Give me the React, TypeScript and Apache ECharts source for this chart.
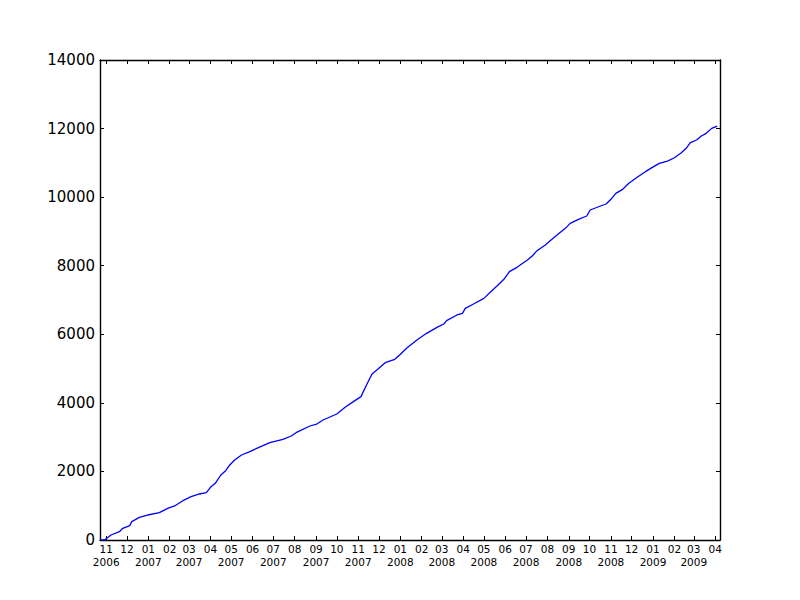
import React, { useEffect, useRef } from "react";
import * as echarts from "echarts";

const dates: string[] = [
  "2006-10-23", "2006-10-30", "2006-11-08", "2006-11-20", "2006-11-25", "2006-12-05",
  "2006-12-08", "2006-12-19", "2006-12-31", "2007-01-17", "2007-01-29", "2007-02-08",
  "2007-02-20", "2007-03-04", "2007-03-16", "2007-03-26", "2007-04-01", "2007-04-08",
  "2007-04-16", "2007-04-23", "2007-04-29", "2007-05-06", "2007-05-16", "2007-05-28",
  "2007-06-07", "2007-06-16", "2007-06-26", "2007-07-15", "2007-07-27", "2007-08-03",
  "2007-08-23", "2007-09-02", "2007-09-11", "2007-10-01", "2007-10-13", "2007-10-25",
  "2007-11-05", "2007-11-13", "2007-11-21", "2007-11-28", "2007-12-10", "2007-12-24",
  "2007-12-31", "2008-01-10", "2008-01-25", "2008-02-08", "2008-02-25", "2008-03-04",
  "2008-03-08", "2008-03-23", "2008-03-31", "2008-04-04", "2008-04-16", "2008-05-01",
  "2008-05-11", "2008-05-20", "2008-05-30", "2008-06-07", "2008-06-18", "2008-07-03",
  "2008-07-10", "2008-07-17", "2008-07-29", "2008-08-05", "2008-08-15", "2008-08-27",
  "2008-09-03", "2008-09-15", "2008-09-27", "2008-10-02", "2008-10-17", "2008-10-25",
  "2008-11-01", "2008-11-08", "2008-11-18", "2008-11-27", "2008-12-09", "2008-12-21",
  "2008-12-31", "2009-01-10", "2009-01-22", "2009-02-01", "2009-02-11", "2009-02-18",
  "2009-02-24", "2009-03-05", "2009-03-12", "2009-03-19", "2009-03-27", "2009-04-04",
];

const counts: number[] = [
  0, 5, 146, 243, 340, 418,
  535, 661, 729, 797, 924, 992,
  1147, 1264, 1342, 1381, 1537, 1653,
  1896, 2022, 2188, 2333, 2479, 2576,
  2674, 2750, 2838, 2936, 3033, 3130,
  3325, 3383, 3500, 3675, 3870, 4035,
  4181, 4521, 4842, 4958, 5172, 5270,
  5396, 5591, 5833, 6028, 6222, 6300,
  6397, 6563, 6611, 6757, 6883, 7048,
  7243, 7408, 7603, 7826, 7953, 8167,
  8283, 8439, 8604, 8730, 8896, 9090,
  9236, 9353, 9450, 9625, 9742, 9800,
  9936, 10111, 10228, 10403, 10578, 10743,
  10869, 10986, 11053, 11150, 11296, 11423,
  11588, 11667, 11783, 11861, 12006, 12073,
];

const xStart = "2006-10-23";
const xEnd = "2009-04-08";
const firstTick = { year: 2006, month: 11 };
const lastTick = { year: 2009, month: 4 };

const DAY = 86400000;
const toDay = (s: string) => {
  const [y, m, d] = s.split("-").map(Number);
  return Date.UTC(y, m - 1, d) / DAY;
};

const monthTicks: number[] = [];
{
  let y = firstTick.year;
  let m = firstTick.month;
  while (y < lastTick.year || (y === lastTick.year && m <= lastTick.month)) {
    monthTicks.push(Date.UTC(y, m - 1, 1) / DAY);
    m++;
    if (m > 12) { m = 1; y++; }
  }
}

const pad2 = (n: number) => (n < 10 ? "0" + n : "" + n);

export default function App() {
  const ref = useRef<HTMLDivElement>(null);
  useEffect(() => {
    if (!ref.current) return;
    const chart = echarts.init(ref.current, null, { renderer: "svg" });
    const font = "DejaVu Sans";
    const seriesData = dates.map((d, i) => [toDay(d), counts[i]]);
    const tickStyle = { show: true, inside: true, length: 4, lineStyle: { color: "#000", width: 1 } };
    const spine = { show: true, onZero: false, lineStyle: { color: "#000", width: 1.4 } };
    chart.setOption({
      animation: false,
      backgroundColor: "#ffffff",
      grid: { left: 100, right: 80, top: 60, bottom: 60, containLabel: false },
      xAxis: [
        {
          type: "value",
          position: "bottom",
          min: toDay(xStart),
          max: toDay(xEnd),
          axisLine: spine,
          axisTick: { ...tickStyle, customValues: monthTicks },
          splitLine: { show: false },
          axisLabel: {
            customValues: monthTicks,
            margin: 2,
            fontFamily: font,
            fontSize: 10.5,
            lineHeight: 13,
            color: "#000",
            formatter: (v: number) => {
              const d = new Date(Math.round(v) * DAY);
              const m = d.getUTCMonth() + 1;
              const y = d.getUTCFullYear();
              return m % 2 === 1 ? pad2(m) + "\n" + y : pad2(m);
            },
          },
        },
        {
          type: "value",
          position: "top",
          min: toDay(xStart),
          max: toDay(xEnd),
          axisLine: spine,
          axisTick: { ...tickStyle, customValues: monthTicks },
          axisLabel: { show: false },
          splitLine: { show: false },
        },
      ],
      yAxis: [
        {
          type: "value",
          position: "left",
          min: 0,
          max: 14000,
          interval: 2000,
          axisLine: spine,
          axisTick: tickStyle,
          splitLine: { show: false },
          axisLabel: {
            margin: 5,
            fontFamily: font,
            fontSize: 15,
            color: "#000",
            formatter: (v: number) => String(v),
          },
        },
        {
          type: "value",
          position: "right",
          min: 0,
          max: 14000,
          interval: 2000,
          axisLine: spine,
          axisTick: tickStyle,
          splitLine: { show: false },
          axisLabel: { show: false },
        },
      ],
      series: [
        {
          type: "line",
          data: seriesData,
          xAxisIndex: 0,
          yAxisIndex: 0,
          showSymbol: false,
          symbol: "none",
          lineStyle: { color: "#0000ff", width: 1.3 },
        },
      ],
    });
    return () => chart.dispose();
  }, []);
  return (
    <div
      ref={ref}
      style={{ position: "fixed", left: 0, top: 0, width: 800, height: 600, background: "#fff" }}
    />
  );
}
